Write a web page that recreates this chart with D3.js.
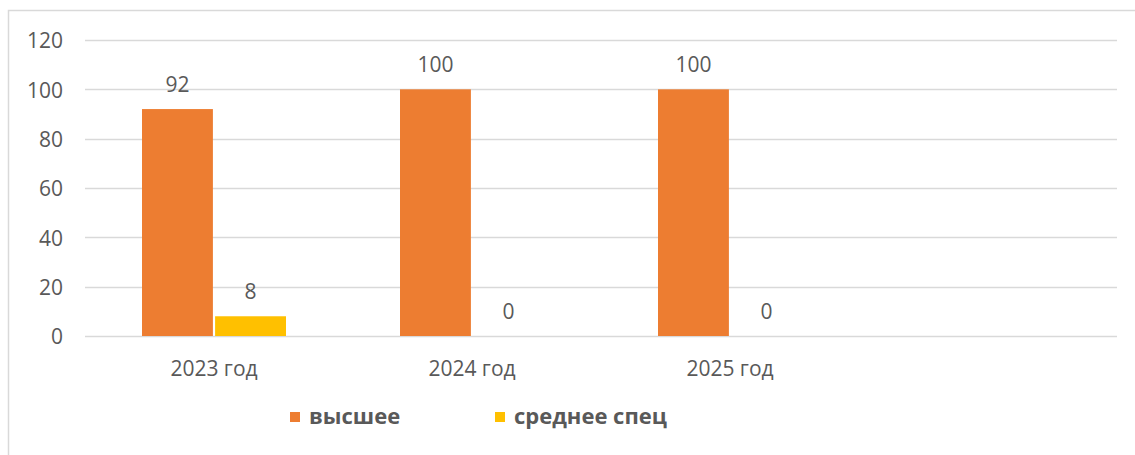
<!DOCTYPE html>
<html>
<head>
<meta charset="utf-8">
<script src="https://cdn.jsdelivr.net/npm/d3@7"></script>
<style>
  body { margin: 0; background: #fff; }
  svg text { font-family: "Open Sans", "Noto Sans", sans-serif; fill: #595959; }
</style>
</head>
<body>
<div id="chart"></div>
<script>
var categories = ["2023 год", "2024 год", "2025 год"]
var seriesNames = ["высшее", "среднее спец"]
var vysshee = [92, 100, 100]
var srednee = [8, 0, 0]
var yTicks = [0, 20, 40, 60, 80, 100, 120]
var colors = ["#ED7D31", "#FFC000"]

var W = 1135, H = 455
var plot = {left: 85, right: 1117, top: 40, bottom: 336}

var svg = d3.select("#chart").append("svg")
    .attr("width", W)
    .attr("height", H)

// chart frame (only top and left edges are inside the picture)
svg.append("path")
    .attr("d", "M8.5," + H + "V10.5H" + W)
    .attr("fill", "none")
    .attr("stroke", "#d9d9d9")
    .attr("stroke-width", 1.5)

// the original has one empty slot after the last year
var x = d3.scaleBand()
    .domain(categories.concat([""]))
    .range([plot.left, plot.right])

var xInner = d3.scaleBand()
    .domain(seriesNames)
    .range([57, x.bandwidth() - 57])
    .paddingInner(0.03)

var y = d3.scaleLinear()
    .domain([0, 120])
    .range([plot.bottom, plot.top])

// grid
svg.append("g")
    .selectAll("line")
    .data(yTicks)
    .enter()
    .append("line")
    .attr("x1", plot.left)
    .attr("x2", plot.right)
    .attr("y1", function(d) { return Math.round(y(d)) + 0.5 })
    .attr("y2", function(d) { return Math.round(y(d)) + 0.5 })
    .attr("stroke", "#d9d9d9")
    .attr("stroke-width", 1.5)

var yAxis = svg.append("g")
    .attr("transform", "translate(" + (plot.left - 22) + ",0)")
    .call(d3.axisLeft(y).tickValues(yTicks).tickSize(0).tickPadding(0))
yAxis.select(".domain").remove()
yAxis.selectAll("text")
    .attr("dy", "0.38em")
    .style("font-size", "21px")
    .style("fill", "#595959")
    .attr("font-family", null)

var rows = categories.map(function(c, i) {
    return {cat: c, vals: [vysshee[i], srednee[i]]}
})

var groups = svg.selectAll(".grp")
    .data(rows)
    .enter()
    .append("g")
    .attr("class", "grp")
    .attr("transform", function(d) { return "translate(" + x(d.cat) + ",0)" })

groups.selectAll("rect")
    .data(function(d) { return d.vals })
    .enter()
    .append("rect")
    .attr("x", function(d, i) { return xInner(seriesNames[i]) })
    .attr("y", function(d) { return y(d) })
    .attr("width", xInner.bandwidth())
    .attr("height", function(d) { return y(0) - y(d) })
    .style("fill", function(d, i) { return colors[i] })

groups.selectAll(".val")
    .data(function(d) { return d.vals })
    .enter()
    .append("text")
    .attr("class", "val")
    .attr("x", function(d, i) { return xInner(seriesNames[i]) + xInner.bandwidth() / 2 })
    .attr("y", function(d) { return y(d) - 17 })
    .attr("text-anchor", "middle")
    .style("font-size", "21px")
    .text(function(d) { return d })

// category labels
svg.append("g")
    .selectAll("text")
    .data(categories)
    .enter()
    .append("text")
    .attr("x", function(d) { return x(d) + x.bandwidth() / 2 })
    .attr("y", 376)
    .attr("text-anchor", "middle")
    .style("font-size", "21px")
    .text(function(d) { return d })

// legend
var legendX = [290, 495]
var legend = svg.append("g")
    .selectAll("g")
    .data(seriesNames)
    .enter()
    .append("g")
    .attr("transform", function(d, i) { return "translate(" + legendX[i] + ",412)" })

legend.append("rect")
    .attr("width", 10)
    .attr("height", 10)
    .style("fill", function(d, i) { return colors[i] })

legend.append("text")
    .attr("x", 19)
    .attr("y", 12)
    .style("font-size", "22px")
    .style("font-weight", "bold")
    .text(function(d) { return d })
</script>
</body>
</html>
